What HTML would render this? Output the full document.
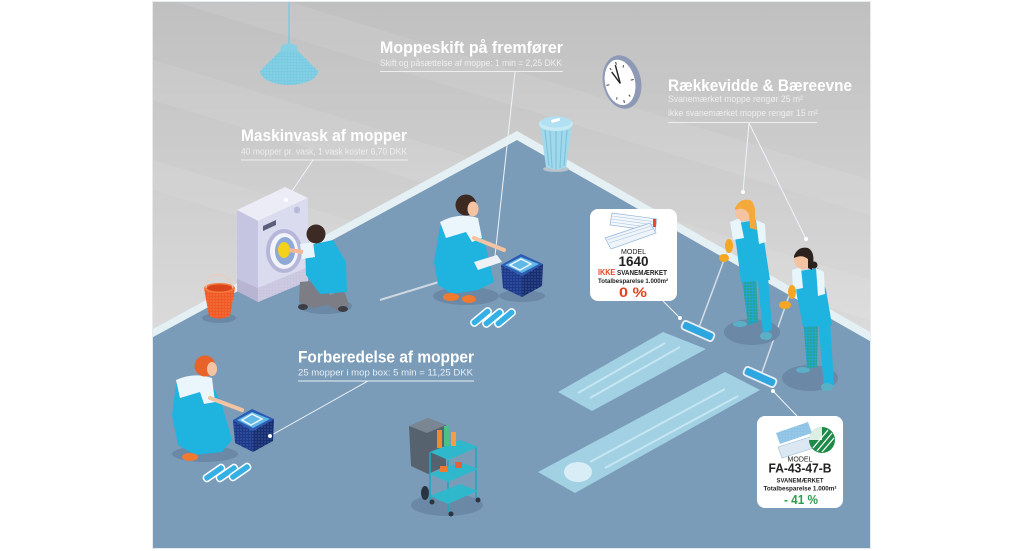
<!DOCTYPE html>
<html><head><meta charset="utf-8">
<style>
html,body{margin:0;padding:0;background:#fff;}
svg{display:block;}
text{font-family:"Liberation Sans",sans-serif;}
.t{font-family:"Liberation Sans Narrow","Liberation Sans",sans-serif;font-weight:bold;fill:#fff;font-size:17px;}
.s{font-family:"Liberation Sans Narrow","Liberation Sans",sans-serif;fill:#eeeeee;font-size:9.5px;}
.c{font-family:"Liberation Sans",sans-serif;fill:#222;text-anchor:middle;}
</style></head><body>
<svg width="1024" height="551" viewBox="0 0 1024 551" xmlns="http://www.w3.org/2000/svg">
<defs>
 <linearGradient id="wall" x1="0" y1="0" x2="0" y2="1">
  <stop offset="0" stop-color="#c0c0c0"/><stop offset="0.6" stop-color="#dadada"/><stop offset="1" stop-color="#e0e0e0"/>
 </linearGradient>
 <clipPath id="cp"><rect x="153" y="2" width="717" height="546"/></clipPath>
 <pattern id="dd" width="3" height="3" patternUnits="userSpaceOnUse"><circle cx="1" cy="1" r="0.55" fill="#ffffff" opacity="0.4"/></pattern>
 <pattern id="gd" width="3" height="3" patternUnits="userSpaceOnUse"><rect width="3" height="3" fill="#21a7c9"/><circle cx="1" cy="1" r="0.8" fill="#2f9a62"/></pattern>
</defs>

<rect x="152" y="1" width="719" height="548" fill="#e6ebef"/>
<g clip-path="url(#cp)">
 <rect x="153" y="2" width="717" height="546" fill="url(#wall)"/>
 <g fill="#fff" opacity="0.08">
  <polygon points="153,-40 870,180 870,215 153,-5"/>
  <polygon points="153,60 870,280 870,320 153,100"/>
  <polygon points="153,160 870,380 870,410 153,190"/>
 </g>
 <polygon points="153,337 517,140 870,341 870,548 153,548" fill="#7b9cb9"/>
 <polygon points="153,329 517,131 870,332 870,341 517,140 153,337" fill="#e5f0f4"/>
</g>

<!-- lamp -->
<line x1="289" y1="2" x2="289" y2="45" stroke="#7ccbe2" stroke-width="1.5"/>
<path d="M281,46 Q289,41 297,46 L298,53 L280,53 Z" fill="#86d0e5"/>
<path d="M280,51 L298,51 L318,71 A29,14 0 0 1 260,71 Z" fill="#79cbe2"/>
<path d="M280,51 L298,51 L318,71 A29,14 0 0 1 260,71 Z" fill="url(#dd)"/>

<!-- clock -->
<g transform="rotate(-12 622 82)">
 <ellipse cx="622" cy="82" rx="19" ry="27" fill="#8e99b6"/>
 <ellipse cx="620" cy="82" rx="15" ry="23" fill="#ffffff"/>
 <g stroke="#444" stroke-width="1">
  <line x1="620" y1="61" x2="620" y2="64"/><line x1="620" y1="100" x2="620" y2="103"/>
  <line x1="606" y1="82" x2="609" y2="82"/><line x1="631" y1="82" x2="634" y2="82"/>
  <line x1="613" y1="66" x2="614" y2="68"/><line x1="627" y1="66" x2="626" y2="68"/>
  <line x1="613" y1="98" x2="614" y2="96"/><line x1="627" y1="98" x2="626" y2="96"/>
 </g>
 <line x1="620" y1="83" x2="619" y2="64" stroke="#222" stroke-width="1.4"/>
 <line x1="620" y1="83" x2="614" y2="70" stroke="#222" stroke-width="1.4"/>
</g>

<!-- trash can -->
<ellipse cx="556" cy="169" rx="13" ry="3" fill="#b9c3cc"/>
<path d="M540,124 L546,167 Q556,172 566,167 L572,124 Z" fill="#a2d8ec"/>
<g stroke="#7cc3de" stroke-width="1.2">
 <line x1="545" y1="130" x2="549" y2="166"/><line x1="550" y1="131" x2="552" y2="168"/>
 <line x1="556" y1="131" x2="556" y2="169"/><line x1="562" y1="131" x2="560" y2="168"/>
 <line x1="567" y1="130" x2="564" y2="166"/>
</g>
<ellipse cx="556" cy="124" rx="17" ry="7" fill="#c4eaf6"/>
<ellipse cx="556" cy="122" rx="15" ry="5.5" fill="#b0e0f1"/>
<rect x="551" y="119" width="9" height="3" rx="1" fill="#fff" transform="rotate(-15 555 120)"/>

<!-- text labels -->
<text class="t" x="380" y="53" textLength="183" lengthAdjust="spacingAndGlyphs">Moppeskift på fremfører</text>
<text class="s" x="380" y="66" textLength="182" lengthAdjust="spacingAndGlyphs">Skift og påsættelse af moppe: 1 min = 2,25 DKK</text>
<line x1="380" y1="71.5" x2="563" y2="71.5" stroke="#eeeeee" stroke-width="1"/>

<text class="t" x="241" y="141" textLength="166" lengthAdjust="spacingAndGlyphs">Maskinvask af mopper</text>
<text class="s" x="241" y="154.5" textLength="166" lengthAdjust="spacingAndGlyphs">40 mopper pr. vask, 1 vask koster 6,70 DKK</text>
<line x1="241" y1="160" x2="408" y2="160" stroke="#eeeeee" stroke-width="1"/>

<text class="t" x="668" y="91" textLength="184" lengthAdjust="spacingAndGlyphs">Rækkevidde &amp; Bæreevne</text>
<text class="s" x="668" y="102" textLength="135" lengthAdjust="spacingAndGlyphs">Svanemærket moppe rengør 25 m²</text>
<text class="s" x="668" y="116" textLength="150" lengthAdjust="spacingAndGlyphs">ikke svanemærket moppe rengør 15 m²</text>
<line x1="668" y1="122.5" x2="817" y2="122.5" stroke="#eeeeee" stroke-width="1"/>

<!-- connectors -->
<g stroke="#eef3f7" stroke-width="1" fill="none">
 <line x1="515" y1="72" x2="495" y2="256"/>
 <line x1="313" y1="160" x2="286" y2="200"/>
 <line x1="749" y1="123" x2="743" y2="192"/>
 <line x1="749" y1="123" x2="806" y2="239"/>
 <line x1="368" y1="381" x2="270" y2="436"/>
 <line x1="663" y1="301" x2="680" y2="318"/>
 <line x1="773" y1="391" x2="797" y2="416"/>
</g>

<!-- washing machine -->
<polygon points="237,210 285,187 308,198 258,221" fill="#ececf7"/>
<polygon points="237,210 258,221 258,302 237,291" fill="#c6c5e1"/>
<polygon points="258,221 308,198 308,281 258,302" fill="#dbdbf0"/>
<polygon points="258,288 308,267 308,281 258,302" fill="#c9c6df"/>
<polygon points="258,288 308,267 308,281 258,302" fill="url(#dd)"/>
<polygon points="237,279 258,288 258,302 237,291" fill="#b8b5d2"/>
<polygon points="263,226 276,220 276,225 263,231" fill="#5c5f7a"/>
<ellipse cx="297" cy="210" rx="3" ry="3.5" fill="#b8b8da"/>
<ellipse cx="284" cy="251" rx="18" ry="22" fill="#b6b7d8"/>
<ellipse cx="284" cy="251" rx="14" ry="18" fill="#f2f3fb"/>
<ellipse cx="285" cy="251" rx="10" ry="14" fill="#8ea9d6"/>
<circle cx="286" cy="200" r="2" fill="#fff"/>

<!-- red bucket -->
<ellipse cx="219" cy="318" rx="17" ry="5" fill="#6b88a6"/>
<path d="M204,288 L209,316 Q219,321 230,316 L235,288 Z" fill="#f05a24"/>
<path d="M204,288 L209,316 Q219,321 230,316 L235,288 Z" fill="url(#dd)"/>
<ellipse cx="219.5" cy="288" rx="15.5" ry="5" fill="#f47a40"/>
<ellipse cx="219.5" cy="288" rx="12.5" ry="3.5" fill="#d9441a"/>
<path d="M206,288 Q208,272 219,275 Q230,276 233,288" stroke="#f4c8b4" stroke-width="1" fill="none"/>

<!-- washer person -->
<ellipse cx="325" cy="306" rx="27" ry="8" fill="#6b88a6"/>
<path d="M300,282 L322,280 L330,295 L344,290 L349,305 L340,312 L328,305 L312,308 L299,302 Z" fill="#7d7d86"/>
<ellipse cx="303" cy="307" rx="5" ry="3" fill="#3d3d45"/>
<ellipse cx="343" cy="309" rx="5" ry="3" fill="#3d3d45"/>
<path d="M305,246 L333,240 L346,262 L347,292 L320,294 L306,275 Z" fill="#1fb3e0"/>
<path d="M300,244 L313,242 L315,257 L302,259 Z" fill="#e9f5fa"/>
<line x1="303" y1="252" x2="289" y2="250" stroke="#f2b896" stroke-width="4"/>
<ellipse cx="284" cy="250" rx="6" ry="8" fill="#f5d21a"/>
<circle cx="316" cy="234" r="9.5" fill="#3b2b24"/>

<!-- center crouching woman -->
<ellipse cx="466" cy="296" rx="33" ry="9" fill="#6b88a6"/>
<line x1="380" y1="300" x2="478" y2="270" stroke="#cfd8e2" stroke-width="2"/>
<path d="M440,226 L478,222 L486,248 L494,282 L478,290 L452,294 L438,285 L434,262 Z" fill="#1fb3e0"/>
<path d="M440,222 Q458,212 478,218 L482,238 L472,242 L466,232 L446,238 Z" fill="#eaf6fb"/>
<line x1="474" y1="238" x2="504" y2="250" stroke="#f3c3a2" stroke-width="4" stroke-linecap="round"/>
<circle cx="466" cy="205" r="10.5" fill="#3c2a22"/>
<ellipse cx="473" cy="209" rx="5.5" ry="7.5" fill="#f3c3a2"/>
<ellipse cx="451" cy="297" rx="8" ry="4" fill="#f07a30"/>
<ellipse cx="469" cy="299" rx="7" ry="4" fill="#f07a30"/>
<polygon points="474,262 497,255 502,262 478,270" fill="#eef2f6"/>

<!-- center box -->
<ellipse cx="522" cy="296" rx="23" ry="6" fill="#6b88a6"/>
<polygon points="501,265 522,276 522,297 503,288" fill="#1c3a8c"/>
<polygon points="522,276 543,264 542,286 522,297" fill="#162e73"/>
<polygon points="501,265 522,276 522,297 503,288" fill="url(#dd)"/>
<polygon points="522,276 543,264 542,286 522,297" fill="url(#dd)"/>
<polygon points="501,265 521,254 543,264 522,276" fill="#2c5bb3"/>
<polygon points="505,265 521,257 539,264 522,273" fill="#5fb8e6"/>
<polygon points="510,265 521,259 531,264 520,270" fill="none" stroke="#e8f4fb" stroke-width="1.5"/>

<!-- center floor mops -->
<g fill="#35b0e5" stroke="#fff" stroke-width="1.5">
 <rect x="-12" y="-3.5" width="24" height="7" rx="3" transform="translate(481 317) rotate(-40)"/>
 <rect x="-12" y="-3.5" width="24" height="7" rx="3" transform="translate(493 318) rotate(-40)"/>
 <rect x="-12" y="-3.5" width="24" height="7" rx="3" transform="translate(505 318) rotate(-40)"/>
</g>

<!-- Forberedelse label -->
<text class="t" x="298" y="362.5" textLength="176" lengthAdjust="spacingAndGlyphs">Forberedelse af mopper</text>
<text class="s" x="298" y="375.5" textLength="175" lengthAdjust="spacingAndGlyphs" style="fill:#e6eef4">25 mopper i mop box: 5 min = 11,25 DKK</text>
<line x1="298" y1="381" x2="474" y2="381" stroke="#e6eef4" stroke-width="1"/>

<!-- left woman -->
<ellipse cx="205" cy="454" rx="33" ry="8" fill="#6b88a6"/>
<path d="M176,384 L210,380 L222,405 L232,440 L222,452 L195,455 L178,445 L172,415 Z" fill="#1fb3e0"/>
<path d="M176,380 Q194,372 212,378 L215,402 L204,404 L200,392 L180,398 Z" fill="#eaf6fb"/>
<line x1="210" y1="398" x2="242" y2="410" stroke="#f3c3a2" stroke-width="4" stroke-linecap="round"/>
<circle cx="205" cy="366" r="10.5" fill="#e8632a"/>
<ellipse cx="212" cy="369" rx="5" ry="7" fill="#f3c3a2"/>
<ellipse cx="190" cy="457" rx="8" ry="4" fill="#f07a30"/>

<!-- left box -->
<polygon points="233,420 253,431 253,452 235,443" fill="#1c3a8c"/>
<polygon points="253,431 274,419 273,441 253,452" fill="#162e73"/>
<polygon points="233,420 253,431 253,452 235,443" fill="url(#dd)"/>
<polygon points="253,431 274,419 273,441 253,452" fill="url(#dd)"/>
<polygon points="233,420 252,409 274,419 253,431" fill="#2c5bb3"/>
<polygon points="237,420 252,412 270,419 253,428" fill="#5fb8e6"/>
<polygon points="242,420 252,414 262,419 251,425" fill="none" stroke="#e8f4fb" stroke-width="1.5"/>
<circle cx="270" cy="436" r="2" fill="#fff"/>

<!-- left floor mops -->
<g fill="#35b0e5" stroke="#fff" stroke-width="1.5">
 <rect x="-12" y="-3.5" width="24" height="7" rx="3" transform="translate(214 473) rotate(-35)"/>
 <rect x="-12" y="-3.5" width="24" height="7" rx="3" transform="translate(227 473) rotate(-35)"/>
 <rect x="-12" y="-3.5" width="24" height="7" rx="3" transform="translate(240 472) rotate(-35)"/>
</g>

<!-- cart -->
<ellipse cx="447" cy="505" rx="36" ry="11" fill="#6b88a6"/>
<path d="M409,426 L428,418 L446,425 L446,466 L428,474 L411,466 Z" fill="#56636e"/>
<polygon points="409,426 428,418 446,425 427,433" fill="#7a8792"/>
<g stroke="#1aa8bf" stroke-width="1.6" fill="none">
 <line x1="430" y1="452" x2="430" y2="500"/><line x1="448" y1="460" x2="448" y2="512"/>
 <line x1="476" y1="446" x2="476" y2="498"/>
</g>
<polygon points="430,452 460,440 478,447 448,460" fill="#2fb8cb"/>
<polygon points="430,474 460,462 478,469 448,482" fill="#2fb8cb"/>
<polygon points="430,496 460,484 478,491 448,504" fill="#2fb8cb"/>
<rect x="437" y="430" width="5" height="18" fill="#f08a2a"/>
<rect x="444" y="426" width="5" height="20" fill="#4cbf8a"/>
<rect x="451" y="432" width="5" height="14" fill="#f0a040"/>
<rect x="440" y="466" width="7" height="6" fill="#f07a30"/>
<rect x="455" y="462" width="7" height="6" fill="#e8603a"/>
<ellipse cx="425" cy="493" rx="4" ry="7" fill="#2a3440"/>
<circle cx="432" cy="502" r="2.5" fill="#2a3440"/>
<circle cx="451" cy="514" r="2.5" fill="#2a3440"/>
<circle cx="478" cy="500" r="2.5" fill="#2a3440"/>

<!-- floor strips -->
<polygon points="558,392 663,332 706,349 592,411" fill="#a6d7e9" opacity="0.9"/>
<g stroke="#c9e9f4" stroke-width="2" opacity="0.9">
 <line x1="578" y1="393" x2="665" y2="343"/><line x1="590" y1="398" x2="680" y2="347"/>
</g>
<polygon points="538,472 725,372 760,390 575,493" fill="#a6d7e9" opacity="0.9"/>
<g stroke="#c9e9f4" stroke-width="2" opacity="0.9">
 <line x1="590" y1="462" x2="725" y2="389"/><line x1="605" y1="468" x2="738" y2="396"/>
</g>
<ellipse cx="578" cy="472" rx="14" ry="10" fill="#e6f4f9" opacity="0.8"/>

<!-- mops with handles -->
<line x1="698" y1="330" x2="727" y2="252" stroke="#d5dde6" stroke-width="1.5"/>
<line x1="760" y1="378" x2="790" y2="293" stroke="#d5dde6" stroke-width="1.5"/>
<rect x="-17" y="-4.5" width="34" height="9" rx="3" fill="#2ea7e0" stroke="#e8eef3" stroke-width="1.8" transform="translate(698 331) rotate(24)"/>
<rect x="-17" y="-4.5" width="34" height="9" rx="3" fill="#2ea7e0" stroke="#e8eef3" stroke-width="1.8" transform="translate(760 377) rotate(24)"/>
<circle cx="680" cy="318" r="2" fill="#fff"/>
<circle cx="773" cy="391" r="2" fill="#fff"/>

<!-- standing woman 1 -->
<ellipse cx="752" cy="332" rx="28" ry="13" fill="#6b88a6"/>
<path d="M741,272 L756,272 L758,322 L748,325 Z" fill="url(#gd)"/>
<path d="M757,272 L768,276 L772,330 L763,333 Z" fill="#1fb3e0"/>
<ellipse cx="740" cy="324" rx="7" ry="3" fill="#5bb0c8"/>
<ellipse cx="766" cy="336" rx="6" ry="4" fill="#5bb0c8"/>
<path d="M733,224 L756,220 L764,240 L770,280 L741,282 L737,250 Z" fill="#1fb3e0"/>
<path d="M730,222 L740,218 L744,238 L733,240 Z" fill="#e8f5fa"/>
<path d="M756,220 L765,224 L766,242 L759,244 Z" fill="#e8f5fa"/>
<circle cx="744" cy="212" r="9" fill="#f3c3a2"/>
<path d="M735,208 Q740,198 750,200 Q756,204 755,216 L757,230 L750,228 L749,214 Q744,206 735,210 Z" fill="#f4a93a"/>
<ellipse cx="729" cy="246" rx="4" ry="7" fill="#f5a623"/>
<ellipse cx="724" cy="258" rx="5" ry="4" fill="#f5a623"/>
<circle cx="743" cy="192" r="2" fill="#fff"/>

<!-- standing woman 2 -->
<ellipse cx="810" cy="378" rx="28" ry="13" fill="#6b88a6"/>
<path d="M803,317 L818,317 L817,367 L807,369 Z" fill="url(#gd)"/>
<path d="M818,318 L830,320 L834,385 L824,388 Z" fill="#1fb3e0"/>
<ellipse cx="803" cy="370" rx="7" ry="3" fill="#5bb0c8"/>
<ellipse cx="827" cy="387" rx="6" ry="4" fill="#5bb0c8"/>
<path d="M794,272 L818,268 L826,290 L832,325 L803,327 L797,296 Z" fill="#1fb3e0"/>
<path d="M792,270 L801,267 L803,288 L793,290 Z" fill="#e8f5fa"/>
<path d="M816,268 L824,272 L825,294 L818,296 Z" fill="#e8f5fa"/>
<circle cx="803" cy="260" r="9" fill="#f3c3a2"/>
<path d="M794,256 Q798,246 808,248 Q815,252 813,264 L812,270 L808,268 L808,259 Q802,254 794,258 Z" fill="#2b211d"/>
<circle cx="814" cy="265" r="3.5" fill="#2b211d"/>
<ellipse cx="792" cy="292" rx="4" ry="7" fill="#f5a623"/>
<ellipse cx="785" cy="305" rx="6" ry="4" fill="#f5a623"/>
<circle cx="806" cy="239" r="2" fill="#fff"/>

<!-- card 1640 -->
<rect x="590" y="209" width="87" height="92" rx="8" fill="#ffffff"/>
<polygon points="612,213 657,219 655,231 610,225" fill="#f3f7fb" stroke="#8fb3d6" stroke-width="0.7"/>
<g stroke="#a9c7e2" stroke-width="0.6"><line x1="612" y1="216" x2="656" y2="222"/><line x1="611" y1="219" x2="656" y2="225"/><line x1="611" y1="222" x2="655" y2="228"/></g>
<rect x="653" y="219" width="3" height="8" fill="#e84a2a"/>
<polygon points="605,238 650,223 656,233 611,249" fill="#eef4fa" stroke="#8fb3d6" stroke-width="0.7"/>
<g stroke="#a9c7e2" stroke-width="0.6"><line x1="607" y1="240" x2="651" y2="226"/><line x1="609" y1="243" x2="653" y2="229"/></g>
<text class="c" x="633.5" y="254" font-size="7" textLength="25" lengthAdjust="spacingAndGlyphs">MODEL</text>
<text class="c" x="633.5" y="266" font-size="13.5" font-weight="bold" fill="#111" textLength="30" lengthAdjust="spacingAndGlyphs">1640</text>
<text x="598" y="275" font-size="7" font-weight="bold" textLength="69" lengthAdjust="spacingAndGlyphs"><tspan fill="#e8401c" font-size="8">IKKE</tspan><tspan fill="#222"> SVANEMÆRKET</tspan></text>
<text class="c" x="633" y="283" font-size="6" font-weight="bold" textLength="70" lengthAdjust="spacingAndGlyphs">Totalbesparelse 1.000m²</text>
<text x="633" y="297" font-size="13.5" font-weight="bold" fill="#e8401c" text-anchor="middle" textLength="28" lengthAdjust="spacingAndGlyphs">0 %</text>

<!-- card FA -->
<rect x="757" y="416" width="86" height="92" rx="8" fill="#ffffff"/>
<polygon points="776,433 808,422 812,433 780,444" fill="#8ec3e6"/>
<polygon points="776,433 808,422 812,433 780,444" fill="url(#dd)"/>
<polygon points="778,447 813,436 817,447 782,458" fill="#dbe8f3" stroke="#9fbcd6" stroke-width="0.6"/>
<circle cx="822" cy="440" r="13" fill="#1d8a48"/>
<g stroke="#fff" stroke-width="1.3">
 <line x1="813" y1="448" x2="828" y2="430"/><line x1="817" y1="451" x2="832" y2="433"/><line x1="822" y1="452" x2="834" y2="438"/>
</g>
<path d="M809,440 A13,13 0 0 1 822,427 L822,440 Z" fill="#fff" opacity="0.85"/>
<text class="c" x="800" y="461.5" font-size="7" textLength="25" lengthAdjust="spacingAndGlyphs">MODEL</text>
<text class="c" x="800" y="472.5" font-size="13" font-weight="bold" fill="#111" textLength="63" lengthAdjust="spacingAndGlyphs">FA-43-47-B</text>
<text class="c" x="800" y="482.5" font-size="6.5" font-weight="bold" textLength="47" lengthAdjust="spacingAndGlyphs">SVANEMÆRKET</text>
<text class="c" x="800" y="490.5" font-size="6" font-weight="bold" textLength="73" lengthAdjust="spacingAndGlyphs">Totalbesparelse 1.000m²</text>
<text x="801" y="504" font-size="13" font-weight="bold" fill="#2e9e4a" text-anchor="middle" textLength="34" lengthAdjust="spacingAndGlyphs">- 41 %</text>
</svg>
</body></html>
